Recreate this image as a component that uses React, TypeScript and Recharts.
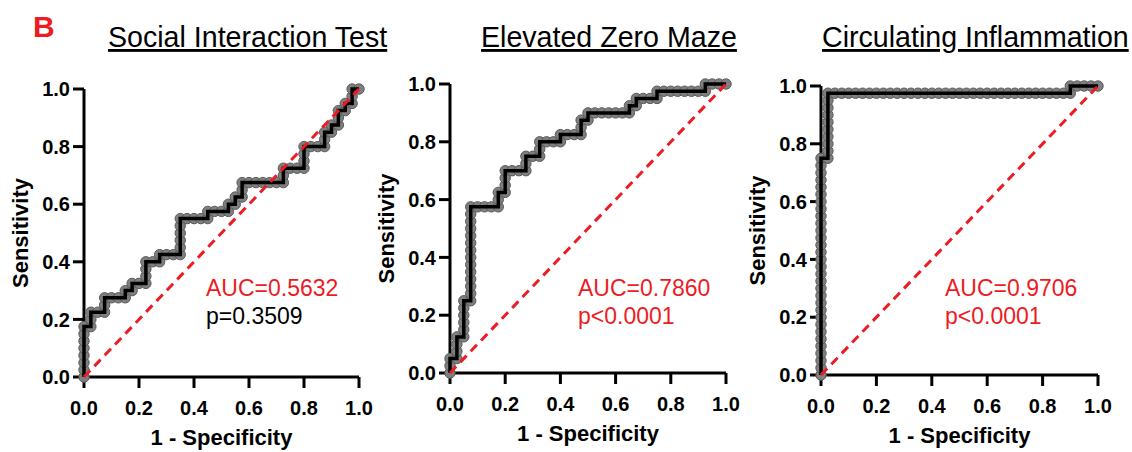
import React from 'react';
import { LineChart, Line, XAxis, YAxis } from 'recharts';

// ROC points as counts: false positives out of 40 controls, true positives out of 40 cases
const N_CONTROLS = 40;
const N_CASES = 40;

const socialFp = [
  0, 0, 0, 0, 0, 0, 0, 0, 1, 1, 1, 2, 3, 3, 3, 4, 5, 6, 6, 7, 7, 8, 9, 9, 9, 9, 10, 11, 11,
  12, 13, 14, 14, 14, 14, 14, 14, 15, 16, 17, 18, 18, 19, 20, 21, 21, 22, 22, 23, 23, 23,
  24, 25, 26, 27, 28, 29, 29, 29, 30, 31, 32, 32, 32, 32, 33, 34, 35, 35, 35, 36, 36,
  37, 37, 37, 38, 38, 39, 39, 39, 40,
];
const socialTp = [
  0, 1, 2, 3, 4, 5, 6, 7, 7, 8, 9, 9, 9, 10, 11, 11, 11, 11, 12, 12, 13, 13, 13, 14, 15, 16, 16, 16, 17,
  17, 17, 17, 18, 19, 20, 21, 22, 22, 22, 22, 22, 23, 23, 23, 23, 24, 24, 25, 25, 26, 27,
  27, 27, 27, 27, 27, 27, 28, 29, 29, 29, 29, 30, 31, 32, 32, 32, 32, 33, 34, 34, 35,
  35, 36, 37, 37, 38, 38, 39, 40, 40,
];

const mazeFp = [
  0, 0, 0, 1, 1, 1, 1, 2, 2, 2, 2, 2, 2, 3, 3, 3, 3, 3, 3, 3, 3, 3, 3, 3, 3, 3, 3,
  4, 5, 6, 7, 7, 7, 8, 8, 8, 8, 9, 10, 11, 11, 11, 12, 13, 13, 13, 14, 15, 16, 16,
  17, 18, 19, 19, 19, 20, 20, 21, 22, 23, 24, 25, 26, 26, 27, 27, 28, 29, 30, 30,
  31, 32, 33, 34, 35, 36, 37, 37, 38, 39, 40,
];
const mazeTp = [
  0, 1, 2, 2, 3, 4, 5, 5, 6, 7, 8, 9, 10, 10, 11, 12, 13, 14, 15, 16, 17, 18, 19, 20, 21, 22, 23,
  23, 23, 23, 23, 24, 25, 25, 26, 27, 28, 28, 28, 28, 29, 30, 30, 30, 31, 32, 32, 32, 32, 33,
  33, 33, 33, 34, 35, 35, 36, 36, 36, 36, 36, 36, 36, 37, 37, 38, 38, 38, 38, 39,
  39, 39, 39, 39, 39, 39, 39, 40, 40, 40, 40,
];

const inflamFp = [
  0, 0, 0, 0, 0, 0, 0, 0, 0, 0, 0, 0, 0, 0, 0, 0, 0, 0, 0, 0, 0, 0, 0, 0, 0, 0, 0, 0, 0, 0, 0,
  1, 1, 1, 1, 1, 1, 1, 1, 1, 1,
  2, 3, 4, 5, 6, 7, 8, 9, 10, 11, 12, 13, 14, 15, 16, 17, 18, 19, 20, 21, 22, 23, 24, 25, 26,
  27, 28, 29, 30, 31, 32, 33, 34, 35, 36,
  36, 37, 38, 39, 40,
];
const inflamTp = [
  0, 1, 2, 3, 4, 5, 6, 7, 8, 9, 10, 11, 12, 13, 14, 15, 16, 17, 18, 19, 20, 21, 22, 23, 24, 25, 26, 27, 28, 29, 30,
  30, 31, 32, 33, 34, 35, 36, 37, 38, 39,
  39, 39, 39, 39, 39, 39, 39, 39, 39, 39, 39, 39, 39, 39, 39, 39, 39, 39, 39, 39, 39, 39, 39, 39, 39,
  39, 39, 39, 39, 39, 39, 39, 39, 39, 39,
  40, 40, 40, 40, 40,
];

const diagFpr = [0, 1];
const diagTpr = [0, 1];

const axisTicks = [0, 0.2, 0.4, 0.6, 0.8, 1.0];

const titles = ['Social Interaction Test', 'Elevated Zero Maze', 'Circulating Inflammation'];
const aucLabels = ['AUC=0.5632', 'AUC=0.7860', 'AUC=0.9706'];
const pLabels = ['p=0.3509', 'p<0.0001', 'p<0.0001'];

const FONT = '"Liberation Sans", Arial, Helvetica, sans-serif';
const RED = '#ec1c24';

const toPoints = (fp: number[], tp: number[]) =>
  fp.map((f, i) => ({ fpr: f / N_CONTROLS, tpr: tp[i] / N_CASES }));

const diagonal = diagFpr.map((x, i) => ({ fpr: x, tpr: diagTpr[i] }));

const yTitle = (props: any) => {
  const vb = props.viewBox || { x: 0, y: 0, height: 0 };
  const x = vb.x + 20;
  const y = vb.y + vb.height / 2;
  return (
    <text
      x={x}
      y={y}
      transform={`rotate(-90 ${x} ${y})`}
      textAnchor="middle"
      dominantBaseline="central"
      fontSize={22}
      fontWeight="bold"
      fontFamily={FONT}
      fill="#000"
    >
      Sensitivity
    </text>
  );
};

const xTitle = (props: any) => {
  const vb = props.viewBox || { x: 0, y: 0, width: 0 };
  return (
    <text
      x={vb.x + vb.width / 2}
      y={vb.y + 68}
      textAnchor="middle"
      fontSize={22}
      fontWeight="bold"
      fontFamily={FONT}
      fill="#000"
    >
      1 - Specificity
    </text>
  );
};

interface RocPanelProps {
  fp: number[];
  tp: number[];
  left: number;
  plotWidth: number;
  top: number;
  plotHeight: number;
}

function RocPanel({ fp, tp, left, plotWidth, top, plotHeight }: RocPanelProps) {
  const points = toPoints(fp, tp);
  const height = 452;
  const width = 84 + plotWidth + 15;
  const bottom = height - top - plotHeight - 60;
  const tickStyle = { fill: '#000', fontSize: 20, fontWeight: 'bold', fontFamily: FONT };
  const fmt = (v: number) => v.toFixed(1);
  return (
    <div style={{ position: 'absolute', left, top: 0, width, height }}>
      {/* axes and markers */}
      <div style={{ position: 'absolute', left: 0, top: 0 }}>
        <LineChart width={width} height={height} margin={{ top, right: 15, bottom, left: 0 }}>
          <XAxis
            type="number"
            dataKey="fpr"
            domain={[0, 1]}
            ticks={axisTicks}
            interval={0}
            tickFormatter={fmt}
            axisLine={{ stroke: '#000', strokeWidth: 3 }}
            tickLine={{ stroke: '#000', strokeWidth: 3 }}
            tickSize={11}
            tickMargin={13}
            tick={tickStyle}
            height={60}
            label={{ content: xTitle }}
          />
          <YAxis
            type="number"
            dataKey="tpr"
            domain={[0, 1]}
            ticks={axisTicks}
            interval={0}
            tickFormatter={fmt}
            axisLine={{ stroke: '#000', strokeWidth: 3 }}
            tickLine={{ stroke: '#000', strokeWidth: 3 }}
            tickSize={11}
            tickMargin={3}
            tick={tickStyle}
            width={84}
            label={{ content: yTitle }}
          />
          <Line
            data={points}
            dataKey="tpr"
            type="linear"
            stroke="none"
            dot={{ r: 5.2, fill: '#7f7f7f', stroke: '#5a5a5a', strokeWidth: 1 }}
            activeDot={false}
            isAnimationActive={false}
          />
        </LineChart>
      </div>
      {/* ROC line and chance diagonal, drawn over the markers */}
      <div style={{ position: 'absolute', left: 0, top: 0 }}>
        <LineChart
          width={width}
          height={height}
          margin={{ top, right: 15, bottom: bottom + 60, left: 84 }}
        >
          <XAxis type="number" dataKey="fpr" domain={[0, 1]} hide />
          <YAxis type="number" dataKey="tpr" domain={[0, 1]} hide />
          <Line
            data={points}
            dataKey="tpr"
            type="linear"
            stroke="#000"
            strokeWidth={3.5}
            dot={false}
            activeDot={false}
            isAnimationActive={false}
          />
          <Line
            data={diagonal}
            dataKey="tpr"
            type="linear"
            stroke={RED}
            strokeWidth={3}
            strokeDasharray="9 6"
            dot={false}
            activeDot={false}
            isAnimationActive={false}
          />
        </LineChart>
      </div>
    </div>
  );
}

const titleX = [108, 481, 822];
const aucX = [206, 578, 945];

export default function App() {
  return (
    <div
      style={{
        position: 'absolute',
        left: 0,
        top: 0,
        width: 1132,
        height: 452,
        background: '#fff',
        overflow: 'hidden',
        fontFamily: FONT,
      }}
    >
      <RocPanel fp={socialFp} tp={socialTp} left={0} plotWidth={275} top={89} plotHeight={288} />
      <RocPanel fp={mazeFp} tp={mazeTp} left={366} plotWidth={276} top={84} plotHeight={289} />
      <RocPanel fp={inflamFp} tp={inflamTp} left={737} plotWidth={277} top={86} plotHeight={289} />
      <svg
        width={1132}
        height={452}
        style={{ position: 'absolute', left: 0, top: 0, pointerEvents: 'none' }}
      >
        <text x={33} y={37} fontSize={30} fontWeight="bold" fill={RED} fontFamily={FONT}>
          B
        </text>
        {titles.map((t, i) => (
          <text
            key={t}
            x={titleX[i]}
            y={47}
            fontSize={28.6}
            fill="#000"
            fontFamily={FONT}
            textDecoration="underline"
          >
            {t}
          </text>
        ))}
        {aucLabels.map((t, i) => (
          <g key={t}>
            <text x={aucX[i]} y={296} fontSize={23} fill={RED} fontFamily={FONT}>
              {t}
            </text>
            <text x={aucX[i]} y={324} fontSize={23} fill={i === 0 ? '#000' : RED} fontFamily={FONT}>
              {pLabels[i]}
            </text>
          </g>
        ))}
      </svg>
    </div>
  );
}
